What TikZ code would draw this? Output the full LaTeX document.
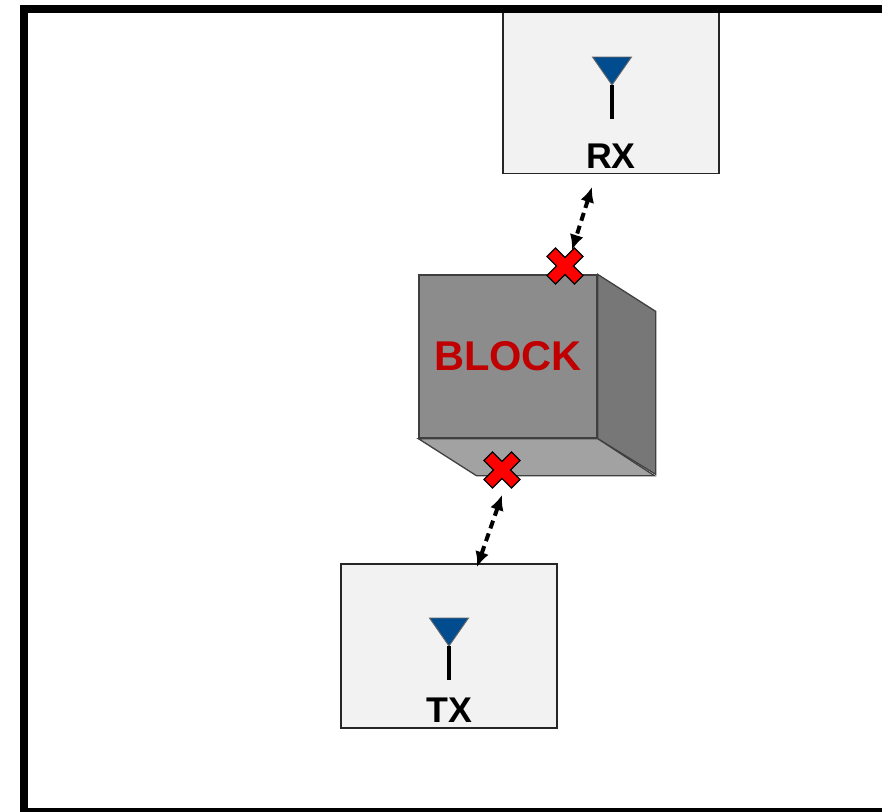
\documentclass[tikz,border=0pt]{standalone}
\usepackage{fontspec}
\setmainfont{Liberation Sans}
\usetikzlibrary{arrows.meta}
\definecolor{stationfill}{HTML}{F2F2F2}
\definecolor{antennablue}{HTML}{004C8F}
\definecolor{blockfront}{HTML}{8C8C8C}
\definecolor{blockside}{HTML}{777777}
\definecolor{blockbottom}{HTML}{A2A2A2}
\definecolor{blockedge}{HTML}{3F3F3F}
\definecolor{blocktext}{HTML}{C00000}
\begin{document}
\begin{tikzpicture}[
        x=0.03cm, y=-0.03cm,
        font=\bfseries,
        line join=miter
    ]
    \tikzset{
        station/.style = {rectangle, draw=black!85, fill=stationfill, line width=0.9pt, minimum width=6.48cm, minimum height=4.92cm},
        stationlabel/.style = {anchor=base, font=\fontsize{30.5}{36}\selectfont\bfseries},
        link/.style = {line width=3.4pt, dash pattern=on 7pt off 4.5pt, {Latex[length=13pt,width=12pt]}-{Latex[length=13pt,width=12pt]}},
        face/.style = {draw=blockedge, line width=1.1pt},
        antenna/.pic = {
            \draw[fill=antennablue, draw=black!60, line width=0.8pt] (-19.5,0) -- (19.5,0) -- (0,28) -- cycle;
            \draw[line width=2.8pt] (0,28) -- (0,62);
        },
        blockcross/.pic = {
            \draw[fill=red, draw=black, line width=1.1pt, rotate=45]
                (6,19.5) -- (6,6) -- (19.5,6) -- (19.5,-6) -- (6,-6) -- (6,-19.5)
                -- (-6,-19.5) -- (-6,-6) -- (-19.5,-6) -- (-19.5,6) -- (-6,6) -- (-6,19.5) -- cycle;
        },
    }
    \useasboundingbox (0,0) rectangle (882,812);

    % receiver and transmitter
    \node[station] (rx) at (611,91.5) {};
    \pic at (612,57) {antenna};
    \node[stationlabel] (rxlabel) at (611,168) {RX};

    \node[station] (tx) at (449,646) {};
    \pic at (449,618) {antenna};
    \node[stationlabel] (txlabel) at (449,722) {TX};

    % the block
    \node[face, fill=blockfront, minimum width=5.34cm, minimum height=4.89cm,
          text=blocktext, font=\fontsize{35.5}{40}\selectfont\bfseries] (block) at (508,356.5) {BLOCK};
    \draw[face, fill=blockside] (block.north east) -- ++(58,37) -- ++(0,163) -- (block.south east) -- cycle;
    \draw[face, fill=blockbottom] (block.south west) -- ++(58,37) -- ++(178,0) -- (block.south east) -- cycle;

    % blocked paths
    \coordinate (rxend) at (592,187);
    \coordinate (topend) at (572,250);
    \coordinate (bottomend) at (502,495);
    \coordinate (txend) at (477,567);
    \draw[link] (rxend) -- (topend);
    \draw[link] (bottomend) -- (txend);
    \pic at (565,266) {blockcross};
    \pic at (502,470) {blockcross};

    % frame
    \draw[line width=6.8pt] (900,9) -- (24,9) -- (24,812) -- (900,812);
\end{tikzpicture}
\end{document}
